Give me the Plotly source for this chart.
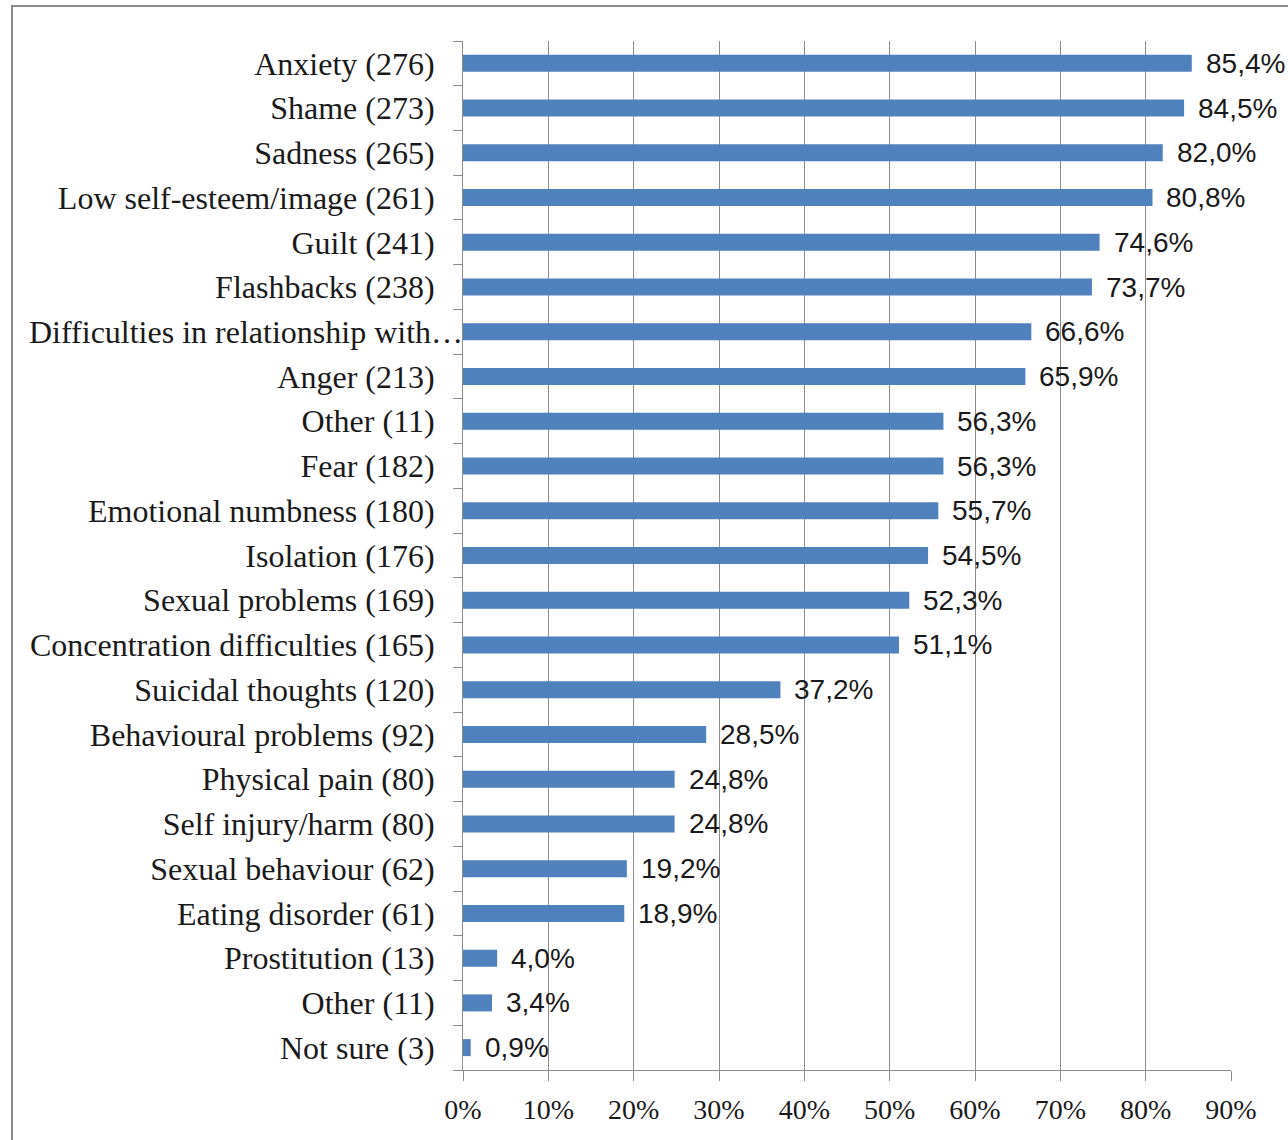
import plotly.graph_objects as go

categories = [
    "Anxiety (276)", "Shame (273)", "Sadness (265)", "Low self-esteem/image (261)",
    "Guilt (241)", "Flashbacks (238)", "Difficulties in relationship with\u2026",
    "Anger (213)", "Other (11)", "Fear (182)", "Emotional numbness (180)",
    "Isolation (176)", "Sexual problems (169)", "Concentration difficulties (165)",
    "Suicidal thoughts (120)", "Behavioural problems (92)", "Physical pain (80)",
    "Self injury/harm (80)", "Sexual behaviour (62)", "Eating disorder (61)",
    "Prostitution (13)", "Other (11)", "Not sure (3)",
]
values = [85.4, 84.5, 82.0, 80.8, 74.6, 73.7, 66.6, 65.9, 56.3, 56.3, 55.7, 54.5,
          52.3, 51.1, 37.2, 28.5, 24.8, 24.8, 19.2, 18.9, 4.0, 3.4, 0.9]
x_ticks = [0, 10, 20, 30, 40, 50, 60, 70, 80, 90]

n = len(categories)
pos = list(range(n))
labels = [f"{v:.1f}".replace(".", ",") + "%" for v in values]

# the truncated label overflows to the axis in the original; draw it separately
long_idx = [i for i, c in enumerate(categories) if c.endswith("\u2026")]
tick_text = ["" if i in long_idx else c for i, c in enumerate(categories)]

label_font = dict(family="Liberation Serif", size=32, color="#1a1a1a")

fig = go.Figure()
fig.add_trace(go.Bar(
    x=values, y=pos, orientation="h", width=0.38,
    marker=dict(color="#4F81BD", line=dict(width=0)),
    hoverinfo="skip",
))

for v, p, t in zip(values, pos, labels):
    fig.add_annotation(x=v, y=p, xref="x", yref="y", text=t, showarrow=False,
                       xanchor="left", yanchor="middle", xshift=12,
                       font=dict(family="Liberation Sans", size=28, color="#1a1a1a"))

for i in long_idx:
    fig.add_annotation(x=0, y=pos[i], xref="paper", yref="y", text=categories[i],
                       showarrow=False, xanchor="right", yanchor="middle",
                       xshift=2, font=label_font)

grid_col = "#8c8c8c"
fig.update_layout(
    width=1288, height=1140,
    margin=dict(l=463, r=57, t=41, b=70, autoexpand=False),
    paper_bgcolor="white", plot_bgcolor="white",
    showlegend=False,
    xaxis=dict(
        range=[0, 90], tickvals=x_ticks, ticktext=[f"{t}%" for t in x_ticks],
        showgrid=True, gridcolor=grid_col, gridwidth=1,
        showline=True, linecolor=grid_col, linewidth=1,
        ticks="outside", ticklen=10, tickcolor=grid_col,
        tickfont=dict(family="Liberation Serif", size=28, color="#1a1a1a"),
        ticklabelstandoff=4, zeroline=False, fixedrange=True, automargin=False,
    ),
    yaxis=dict(
        range=[n - 0.5, -0.5], tickvals=pos, ticktext=tick_text,
        showgrid=False, zeroline=False,
        showline=True, linecolor=grid_col, linewidth=1,
        ticks="", ticklabelstandoff=21, automargin=False,
        tickfont=label_font,
        minor=dict(tickvals=[p - 0.5 for p in pos] + [n - 0.5], ticks="outside",
                   ticklen=9, tickcolor=grid_col, showgrid=False),
        fixedrange=True,
    ),
    shapes=[dict(type="rect", xref="paper", yref="paper",
                 x0=(12 - 463) / 768, x1=1.5, y0=-0.5, y1=1 + (41 - 6) / 1029,
                 line=dict(color="#8a8a8a", width=2), fillcolor="rgba(0,0,0,0)",
                 layer="below")],
)

fig.write_html("out.html", config={"displayModeBar": False},
               post_script="document.body.style.margin='0';")
